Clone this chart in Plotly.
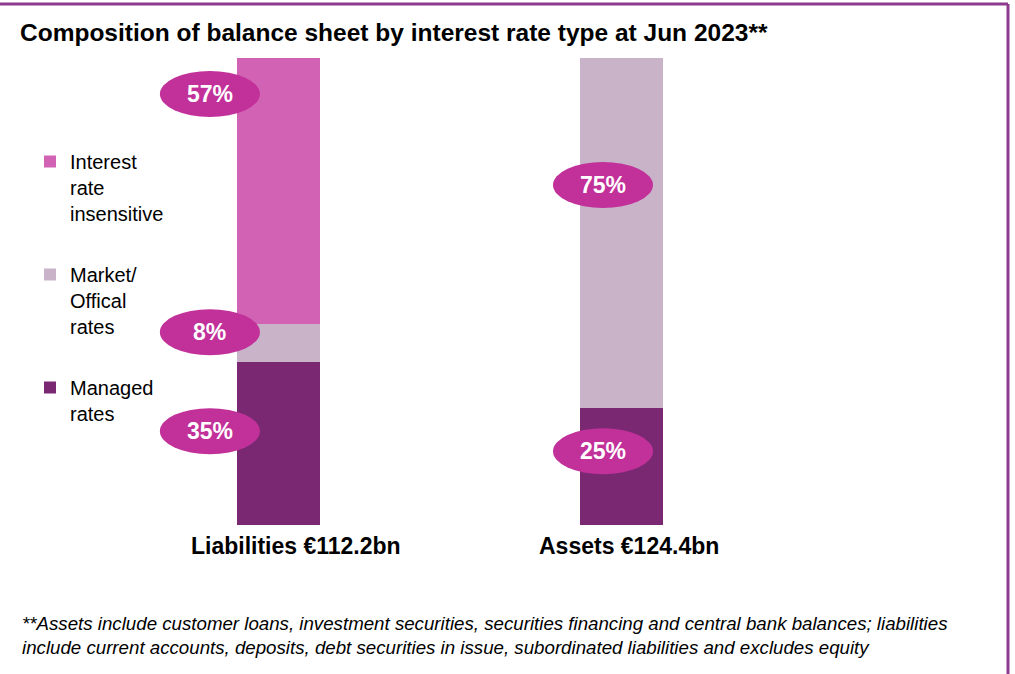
import plotly.graph_objects as go

# ---- data ----
categories = ["Liabilities €112.2bn", "Assets €124.4bn"]
managed_rates = [35, 25]
market_official_rates = [8, 75]
interest_rate_insensitive = [57, 0]
series_names = ["Managed<br>rates", "Market/<br>Offical<br>rates", "Interest<br>rate<br>insensitive"]
title_text = "Composition of balance sheet by interest rate type at Jun 2023**"
footnote_lines = [
    "**Assets include customer loans, investment securities, securities financing and central bank balances; liabilities",
    "include current accounts, deposits, debt securities in issue, subordinated liabilities and excludes equity",
]

# ---- styling / placement (not data) ----
W, H = 1015, 674
colors = ["#7A2872", "#C9B3C9", "#D262B4"]
legend_ranks = [3, 2, 1]
bubble_color = "#C2309A"
border_color = "#8E3A8D"
FONT = "Liberation Sans, Arial, sans-serif"
x_idx = [0, 1]
plot_top, plot_bottom = 58, 525
px_per_cat = 343.0
left_px_of_first = 278.5
x_range = [-left_px_of_first / px_per_cat, 1 + (W - (left_px_of_first + px_per_cat)) / px_per_cat]
bar_width = 83 / px_per_cat

# bubble label placements: (category index, x offset in category units, y in value units) per series
bubble_pos = {
    "managed": [(0, -0.20, 20.1), (1, -0.054, 15.8)],
    "market": [(0, -0.20, 41.3), (1, -0.054, 72.8)],
    "insensitive": [(0, -0.20, 92.3)],
}
bubble_w = 100 / px_per_cat
bubble_h = 46 / ((plot_bottom - plot_top) / 100.0)

fig = go.Figure()
for name, vals, col, rk in zip(series_names,
                               [managed_rates, market_official_rates, interest_rate_insensitive],
                               colors, legend_ranks):
    fig.add_trace(go.Bar(
        x=x_idx, y=vals, name=name, marker=dict(color=col, line=dict(width=0)),
        width=bar_width, hoverinfo="skip", legendgroup=name, legendrank=rk,
    ))

shapes = []
annotations = []
value_map = {"managed": managed_rates, "market": market_official_rates, "insensitive": interest_rate_insensitive}
for key, plist in bubble_pos.items():
    for (ci, dx, yc) in plist:
        xc = x_idx[ci] + dx
        shapes.append(dict(type="circle", xref="x", yref="y",
                           x0=xc - bubble_w / 2, x1=xc + bubble_w / 2,
                           y0=yc - bubble_h / 2, y1=yc + bubble_h / 2,
                           fillcolor=bubble_color, line=dict(width=0), layer="above"))
        annotations.append(dict(x=xc, y=yc, xref="x", yref="y", text=f"<b>{value_map[key][ci]}%</b>",
                                showarrow=False, font=dict(family=FONT, size=23, color="white"),
                                xanchor="center", yanchor="middle"))

# category labels
cat_shift = [17.5, 7.5]
for i, c in enumerate(categories):
    annotations.append(dict(x=x_idx[i], y=0, xref="x", yref="y", text=f"<b>{c}</b>", showarrow=False,
                            xshift=cat_shift[i], yanchor="middle", yshift=-21,
                            font=dict(family=FONT, size=23, color="black")))

# footnote
ph = plot_bottom - plot_top
for j, (line, py) in enumerate(zip(footnote_lines, [623, 647])):
    annotations.append(dict(x=20 / W, y=(plot_bottom - py) / ph, xref="paper", yref="paper",
                            text=f"<i>{line}</i>", showarrow=False, xanchor="left", yanchor="middle",
                            font=dict(family=FONT, size=18.7, color="black")))

# frame lines
shapes.append(dict(type="line", xref="paper", yref="paper", x0=0, x1=1008 / W,
                   y0=(plot_bottom - 4) / ph, y1=(plot_bottom - 4) / ph,
                   line=dict(color=border_color, width=3)))
shapes.append(dict(type="line", xref="paper", yref="paper", x0=1008 / W, x1=1008 / W,
                   y0=(plot_bottom - 4) / ph, y1=(plot_bottom - H) / ph,
                   line=dict(color=border_color, width=3)))

fig.update_layout(
    width=W, height=H,
    margin=dict(l=0, r=0, t=plot_top, b=H - plot_bottom),
    paper_bgcolor="white", plot_bgcolor="white",
    barmode="stack", bargap=0,
    title=dict(text=f"<b>{title_text}</b>", x=20 / W, xanchor="left", xref="paper",
               y=1 - 32 / H, yanchor="middle", yref="container",
               font=dict(family=FONT, size=24.5, color="black")),
    xaxis=dict(range=x_range, showticklabels=False, showgrid=False, zeroline=False,
               showline=False, ticks="", fixedrange=True),
    yaxis=dict(range=[0, 100], showticklabels=False, showgrid=False, zeroline=False,
               showline=False, ticks="", fixedrange=True),
    legend=dict(x=30 / W, y=(plot_bottom - 142) / ph, xanchor="left", yanchor="top",
                traceorder="grouped", tracegroupgap=32, valign="top",
                font=dict(family=FONT, size=20, color="black"),
                bgcolor="rgba(0,0,0,0)", itemclick=False, itemdoubleclick=False),
    shapes=shapes, annotations=annotations,
    showlegend=True,
)

fig.write_html("out.html", config={"displayModeBar": False},
               post_script="document.body.style.margin='0';")
